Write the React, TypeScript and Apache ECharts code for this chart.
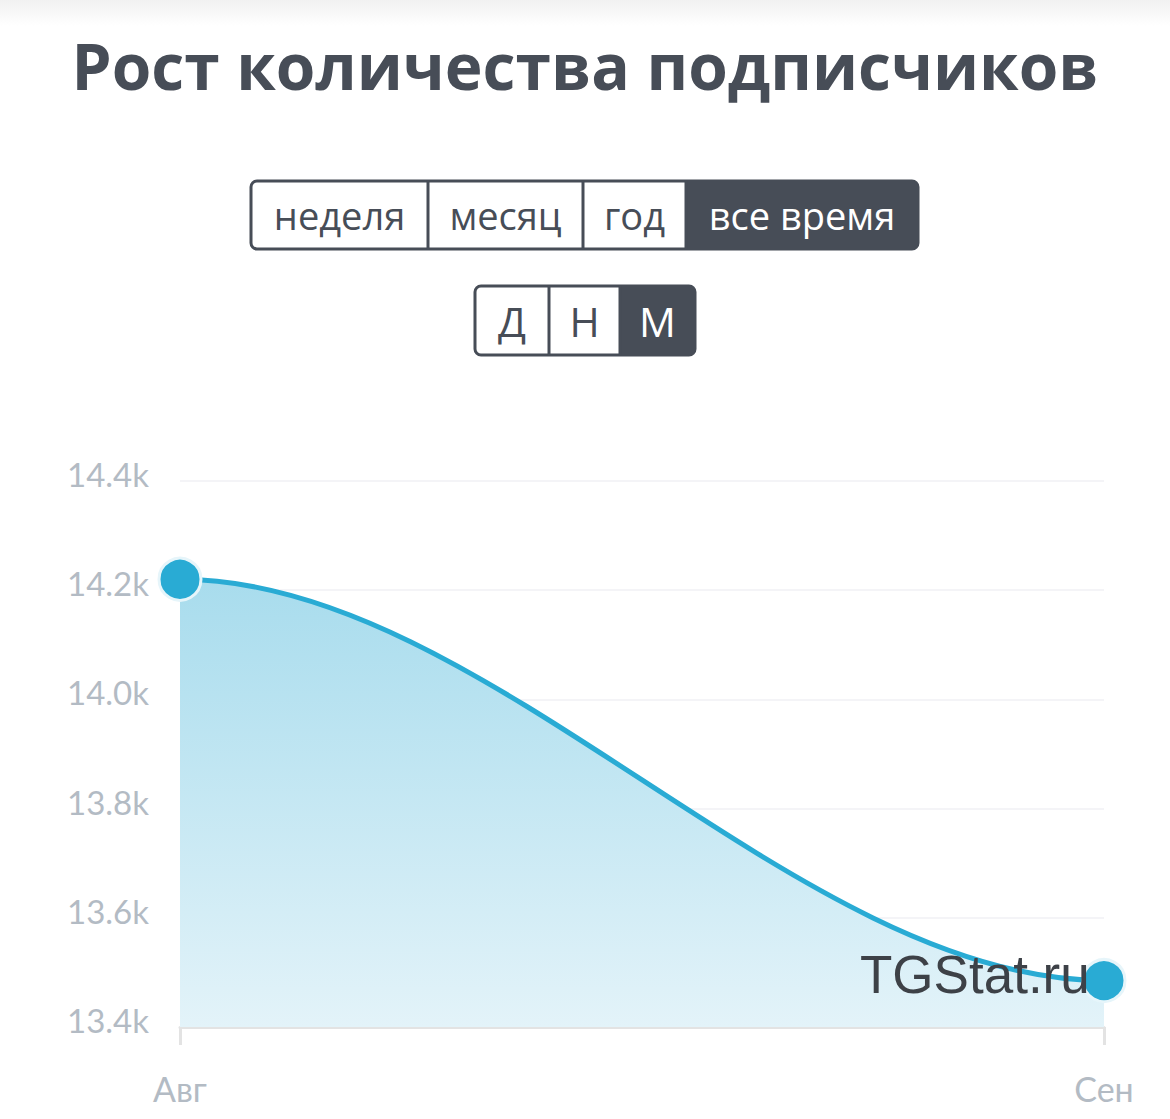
import React, { useEffect, useRef } from "react";
import * as echarts from "echarts";

const categories = ["Авг", "Сен"];
const subscribers = [14220, 13485];
const yMin = 13400;
const yMax = 14400;
const yStep = 200;
const periodButtons = ["неделя", "месяц", "год", "все время"];
const scaleButtons = ["Д", "Н", "М"];
const titleText = "Рост количества подписчиков";
const watermark = "TGStat.ru";

const DARK = "#474d57";
const BLUE = "#29abd4";
const LABEL = "#b3bbc4";

function buttonGroup(labels: string[], edges: number[], top: number, bottom: number, activeIdx: number, fontSize: number) {
  const els: any[] = [];
  const left = edges[0];
  const right = edges[edges.length - 1];
  els.push({
    type: "rect",
    shape: { x: left, y: top, width: right - left, height: bottom - top, r: 6 },
    style: { fill: "#fff", stroke: DARK, lineWidth: 3 },
    z: 10,
  });
  labels.forEach((lab, i) => {
    const x0 = edges[i];
    const x1 = edges[i + 1];
    if (i === activeIdx) {
      const isLast = i === labels.length - 1;
      els.push({
        type: "rect",
        shape: { x: x0, y: top, width: x1 - x0, height: bottom - top, r: isLast ? [0, 6, 6, 0] : 0 },
        style: { fill: DARK },
        z: 11,
      });
    }
    if (i > 0) {
      els.push({
        type: "line",
        shape: { x1: x0, y1: top, x2: x0, y2: bottom },
        style: { stroke: DARK, lineWidth: 3 },
        z: 12,
      });
    }
    els.push({
      type: "text",
      x: (x0 + x1) / 2,
      y: (top + bottom) / 2,
      style: {
        text: lab,
        fill: i === activeIdx ? "#fff" : DARK,
        font: `400 ${fontSize}px "Open Sans", sans-serif`,
        align: "center",
        verticalAlign: "middle",
      },
      z: 13,
    });
  });
  return els;
}

export default function App() {
  const ref = useRef<HTMLDivElement>(null);
  useEffect(() => {
    document.body.style.margin = "0";
    const chart = echarts.init(ref.current!, null, { renderer: "svg" });
    const graphics: any[] = [
      {
        type: "rect",
        shape: { x: 0, y: 0, width: 1170, height: 26 },
        style: {
          fill: new echarts.graphic.LinearGradient(0, 0, 0, 1, [
            { offset: 0, color: "#f1f1f1" },
            { offset: 1, color: "#ffffff" },
          ]),
        },
        z: 1,
      },
      {
        type: "text",
        x: 585,
        y: 65,
        style: {
          text: titleText,
          fill: DARK,
          font: `700 64px "Open Sans", sans-serif`,
          align: "center",
          verticalAlign: "middle",
        },
        z: 10,
      },
      ...buttonGroup(periodButtons, [251, 428, 583, 686, 918], 181, 249, 3, 38),
      ...buttonGroup(scaleButtons, [475, 549, 620, 695], 286, 355, 2, 41),
      {
        type: "text",
        x: 860,
        y: 974,
        style: {
          text: watermark,
          fill: "#3d4147",
          font: `400 53px "Liberation Sans", Arial, sans-serif`,
          align: "left",
          verticalAlign: "middle",
        },
        z: 50,
      },
    ];

    const option: any = {
      animation: false,
      backgroundColor: "#fff",
      grid: { left: 180, right: 66, top: 481, bottom: 92 },
      xAxis: {
        type: "category",
        data: categories,
        boundaryGap: false,
        axisLine: { lineStyle: { color: "#e3e3e3", width: 3 } },
        axisTick: { show: true, length: 18, lineStyle: { color: "#e3e3e3", width: 3 } },
        axisLabel: {
          color: LABEL,
          fontSize: 34,
          fontFamily: "Lato, sans-serif",
          margin: 44,
        },
        splitLine: { show: false },
      },
      yAxis: {
        type: "value",
        min: yMin,
        max: yMax,
        interval: yStep,
        axisLine: { show: false },
        axisTick: { show: false },
        splitLine: { lineStyle: { color: "#f4f4f7", width: 2 } },
        axisLabel: {
          margin: 31,
          formatter: (v: number) => "{v|" + (v / 1000).toFixed(1) + "k}",
          rich: {
            v: {
              color: LABEL,
              fontSize: 33,
              fontFamily: "Lato, sans-serif",
              padding: [0, 0, 14, 0],
            },
          },
        },
      },
      graphic: graphics,
      series: [
        {
          type: "custom",
          data: [[0, subscribers[0], 1, subscribers[1]]],
          encode: { x: [0, 2], y: [1, 3] },
          z: 2,
          renderItem: (params: any, api: any) => {
            const p0 = api.coord([api.value(0), api.value(1)]);
            const p1 = api.coord([api.value(2), api.value(3)]);
            const base = api.coord([api.value(0), yMin])[1];
            const dx = p1[0] - p0[0];
            const c1 = p0[0] + dx / 3;
            const c2 = p1[0] - dx / 3;
            const curve = `M ${p0[0]} ${p0[1]} C ${c1} ${p0[1]} ${c2} ${p1[1]} ${p1[0]} ${p1[1]}`;
            const area = `${curve} L ${p1[0]} ${base} L ${p0[0]} ${base} Z`;
            return {
              type: "group",
              children: [
                {
                  type: "path",
                  shape: { pathData: area },
                  style: {
                    fill: new echarts.graphic.LinearGradient(0, 0, 0, 1, [
                      { offset: 0, color: "#a8dced" },
                      { offset: 1, color: "#e3f3f9" },
                    ]),
                    stroke: null,
                  },
                },
                {
                  type: "path",
                  shape: { pathData: curve },
                  style: { fill: null, stroke: BLUE, lineWidth: 5 },
                },
              ],
            };
          },
        },
        {
          type: "line",
          data: subscribers,
          z: 5,
          symbol: "circle",
          symbolSize: 42,
          showSymbol: true,
          lineStyle: { opacity: 0, width: 0 },
          itemStyle: { color: BLUE, borderColor: "#e6f5fa", borderWidth: 3 },
        },
      ],
    };
    chart.setOption(option);
    return () => chart.dispose();
  }, []);
  return <div ref={ref} style={{ position: "fixed", left: 0, top: 0, width: 1170, height: 1119 }} />;
}
